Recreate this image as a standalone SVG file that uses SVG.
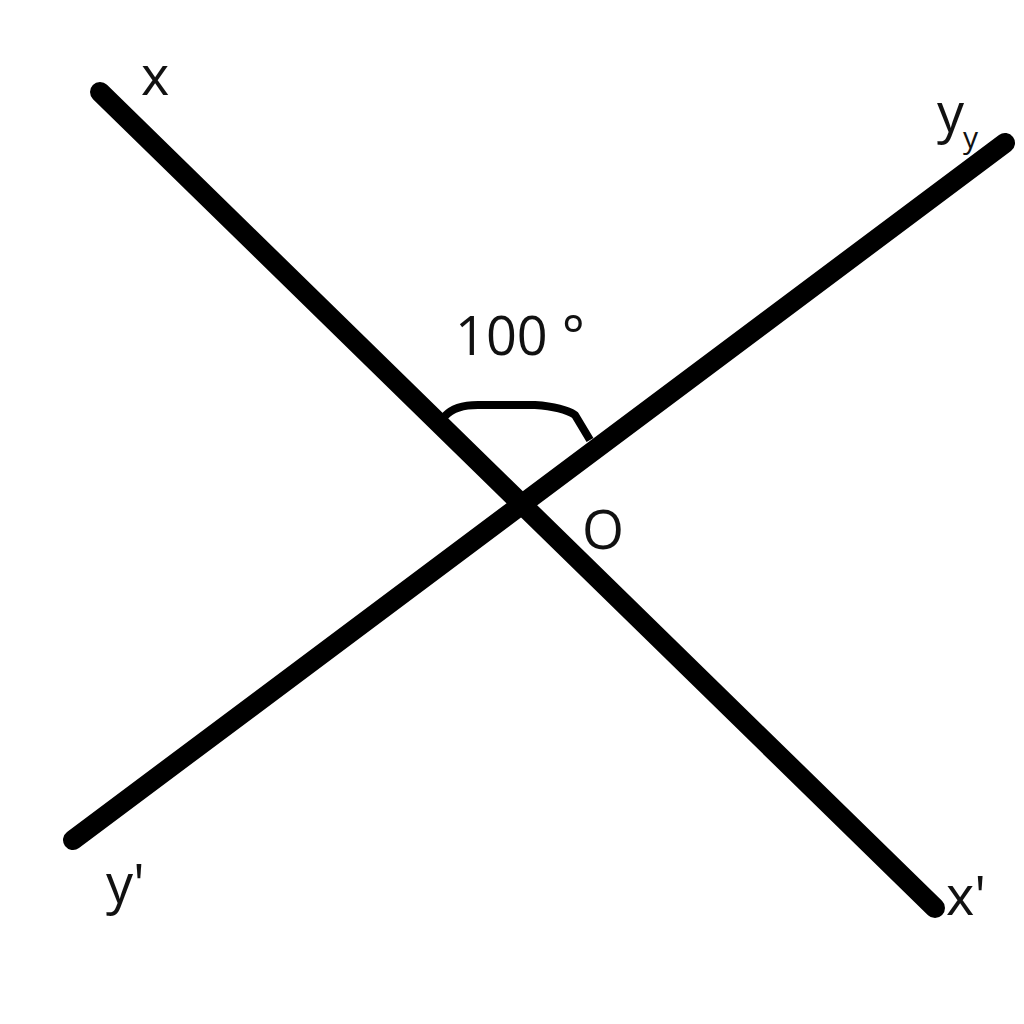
<svg xmlns="http://www.w3.org/2000/svg" width="1024" height="1024" viewBox="0 0 1024 1024">
<style>
.ln{stroke:#000;stroke-width:20;stroke-linecap:round;fill:none}
.arc{stroke:#000;stroke-width:8;fill:none;stroke-linejoin:round}
.t{font-family:"Open Sans","DejaVu Sans",sans-serif;font-size:54px;fill:#111}
</style>
<rect width="1024" height="1024" fill="#fff"/>
<g id="node-x"><text class="t" x="141" y="95">x</text></g>
<g id="node-y"><text class="t" x="937" y="132">y</text><text class="t" x="963" y="148" style="font-size:30px">y</text></g>
<g id="node-y-prime"><text class="t" x="106" y="903">y'</text></g>
<g id="node-x-prime"><text class="t" x="946" y="915">x'</text></g>
<g id="node-O"><text class="t" x="582" y="549">O</text></g>
<g id="label-angle"><text class="t" x="455" y="355">100 °</text></g>
<g id="connectors">
<line id="line-xx" class="ln" x1="100" y1="92" x2="935" y2="908"/>
<line id="line-yy" class="ln" x1="73" y1="840" x2="1005" y2="143"/>
<path id="angle-arc" class="arc" d="M445 416 Q455 405 478 405 L535 405 Q563 407 575 415 L590 440"/>
</g>
</svg>
